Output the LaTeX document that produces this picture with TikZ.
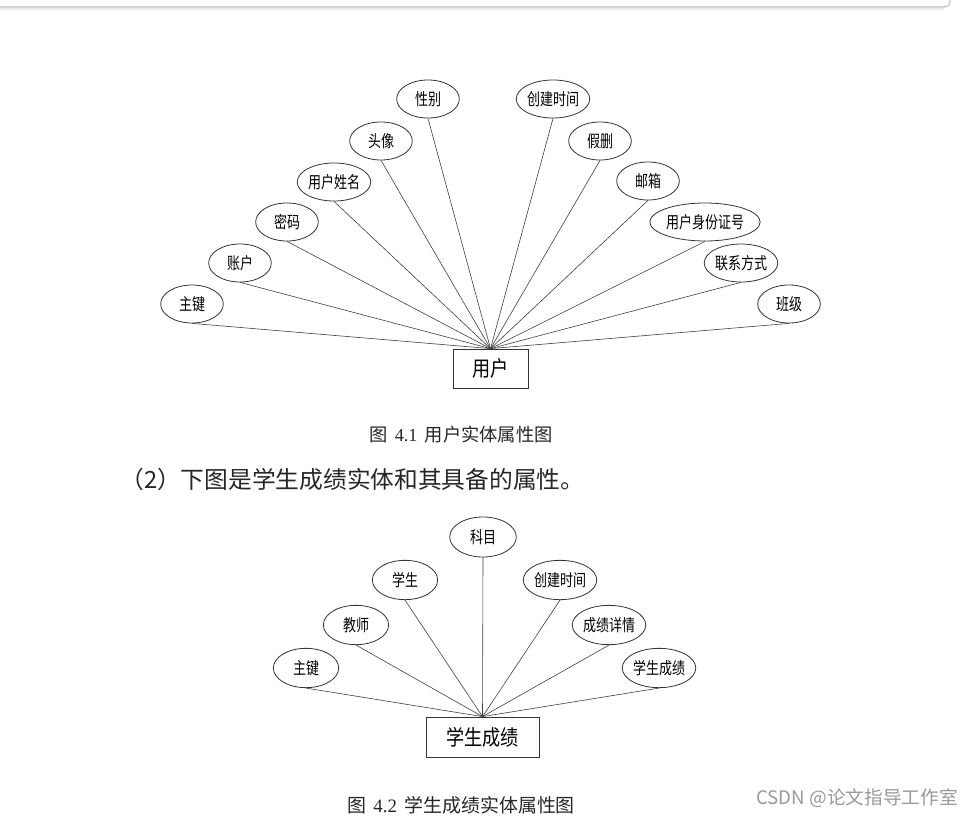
\documentclass[tikz,border=0pt]{standalone}
\usepackage{fontspec}
\usetikzlibrary{shapes.geometric}
\newfontfamily\cjk{Noto Sans CJK SC}
\newfontfamily\cjkn[FakeStretch=0.78]{Noto Sans CJK SC}
\newfontfamily\cjkr[FakeStretch=0.85]{Noto Sans CJK SC}
\newfontfamily\numf{Liberation Serif}
\begin{document}
\begin{tikzpicture}[x=0.75pt,y=-0.75pt,
  attr/.style={draw=black!80, line width=0.6pt, ellipse, minimum width=47pt, minimum height=28.5pt, inner sep=0pt, text=black, font=\cjkn\fontsize{12.5}{14}\selectfont},
  ent/.style={draw=black!80, line width=0.6pt, rectangle, inner sep=0pt, font=\cjkr\fontsize{16}{18}\selectfont},
  link/.style={draw=black!75, line width=0.45pt},
  captxt/.style={inner sep=0pt, text=black!85}]
\useasboundingbox (0,0) rectangle (962,816);
\fill[white] (0,0) rectangle (962,816);
% window edge
\draw[black!25, line width=0.8pt] (0,7) -- (945,7) arc[start angle=90, end angle=0, radius=5] -- (950,0);
\draw[black!8, line width=1.5pt] (0,9) -- (944,9);

% ---- figure 4.1 ----
\node[ent, minimum width=56.25pt, minimum height=29.25pt] (user) at (490.5,368.5) {用户};
\node[attr] (a1) at (192,304) {主键};
\node[attr] (a2) at (240,263) {账户};
\node[attr] (a3) at (287,222) {密码};
\node[attr] (a4) at (334,182) {用户姓名};
\node[attr] (a5) at (381,141) {头像};
\node[attr] (a6) at (428,99) {性别};
\node[attr] (a7) at (553,99) {创建时间};
\node[attr] (a8) at (600,141) {假删};
\node[attr] (a9) at (648,181) {邮箱};
\node[attr, minimum width=61.5pt] (a10) at (705,222) {用户身份证号};
\node[attr] (a11) at (741,263) {联系方式};
\node[attr] (a12) at (789,304) {班级};
\foreach \n in {a1,a2,a3,a4,a5,a6,a7,a8,a9,a10,a11,a12}
  \draw[link] (\n.south) -- (user.north);

\node[captxt, font=\cjk\fontsize{13.7}{15}\selectfont] (cap1) at (461,435) {图\, {\numf 4.1}\, 用户实体属性图};
\node[captxt, anchor=west, font=\cjk\fontsize{17.8}{19}\selectfont] (para) at (120,479) {（2）下图是学生成绩实体和其具备的属性。};

% ---- figure 4.2 ----
\node[ent, minimum width=84.75pt, minimum height=30pt] (score) at (482.5,737) {学生成绩};
\node[attr, minimum width=49pt, minimum height=29.5pt] (b1) at (306,668) {主键};
\node[attr, minimum width=49pt, minimum height=29.5pt] (b2) at (356,625) {教师};
\node[attr, minimum width=49pt, minimum height=29.5pt] (b3) at (405,580) {学生};
\node[attr, minimum width=50pt, minimum height=30pt] (b4) at (483,537) {科目};
\node[attr, minimum width=49pt, minimum height=29.5pt] (b5) at (560,580) {创建时间};
\node[attr, minimum width=49pt, minimum height=29.5pt] (b6) at (609,625) {成绩详情};
\node[attr, minimum width=49pt, minimum height=29.5pt] (b7) at (659,668) {学生成绩};
\foreach \n in {b1,b2,b3,b4,b5,b6,b7}
  \draw[link] (\n.south) -- (score.north);

\node[captxt, font=\cjk\fontsize{14.2}{16}\selectfont] (cap2) at (461,805) {图\, {\numf 4.2}\, 学生成绩实体属性图};
\node[captxt, anchor=east, text=black!40, font=\cjk\fontsize{14}{16}\selectfont] (wm) at (958,798) {CSDN @论文指导工作室};
\end{tikzpicture}
\end{document}
